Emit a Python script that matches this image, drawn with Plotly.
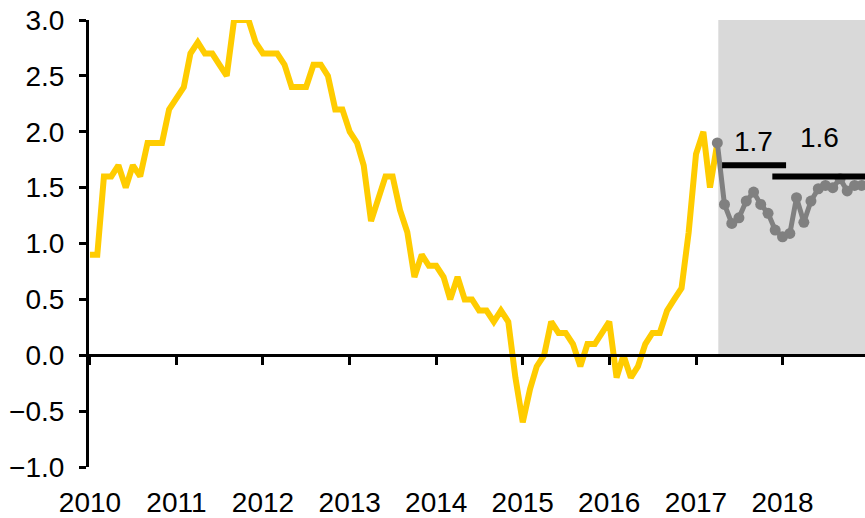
import plotly.graph_objects as go
import pandas as pd

# Actual inflation, monthly Jan 2010 - Apr 2017 (% y/y)
actual_dates = pd.date_range("2010-01-01", "2017-04-01", freq="MS")
actual = [
    0.9, 0.9, 1.6, 1.6, 1.7, 1.5, 1.7, 1.6, 1.9, 1.9, 1.9, 2.2,
    2.3, 2.4, 2.7, 2.8, 2.7, 2.7, 2.6, 2.5, 3.0, 3.0, 3.0, 2.8,
    2.7, 2.7, 2.7, 2.6, 2.4, 2.4, 2.4, 2.6, 2.6, 2.5, 2.2, 2.2,
    2.0, 1.9, 1.7, 1.2, 1.4, 1.6, 1.6, 1.3, 1.1, 0.7, 0.9, 0.8,
    0.8, 0.7, 0.5, 0.7, 0.5, 0.5, 0.4, 0.4, 0.3, 0.4, 0.3, -0.2,
    -0.6, -0.3, -0.1, 0.0, 0.3, 0.2, 0.2, 0.1, -0.1, 0.1, 0.1, 0.2,
    0.3, -0.2, 0.0, -0.2, -0.1, 0.1, 0.2, 0.2, 0.4, 0.5, 0.6, 1.1,
    1.8, 2.0, 1.5, 1.9,
]

# Forecast, monthly Apr 2017 - Dec 2018
forecast_dates = pd.date_range("2017-04-01", "2018-12-01", freq="MS")
forecast = [
    1.9, 1.35, 1.18, 1.23, 1.38, 1.46, 1.35, 1.27, 1.12,
    1.06, 1.09, 1.41, 1.19, 1.38, 1.49, 1.52, 1.50, 1.58, 1.47, 1.52, 1.52,
]

# Annual averages of the forecast and the spans they are drawn over
avg_labels = ["1.7", "1.6"]
avg_values = [1.7, 1.6]
avg_starts = ["2017-04-21", "2017-11-19"]
avg_ends = ["2018-01-16", "2018-12-20"]
avg_label_x = ["2017-09-02", "2018-06-06"]
avg_label_y = [1.91, 1.95]

forecast_start = "2017-04-05"
x_range = ["2009-12-28", "2018-12-15"]
y_range = [-1.0, 3.0]
year_ticks = [f"{y}-01-01" for y in range(2010, 2019)]
year_labels = [str(y) for y in range(2010, 2019)]
y_ticks = [-1.0, -0.5, 0.0, 0.5, 1.0, 1.5, 2.0, 2.5, 3.0]

FONT = "Liberation Sans, Arial, sans-serif"

fig = go.Figure()

# shaded forecast period
fig.add_shape(type="rect", xref="x", yref="y", x0=forecast_start, x1=x_range[1],
              y0=0, y1=3.0, fillcolor="#d9d9d9", line_width=0, layer="below")

fig.add_trace(go.Scatter(x=actual_dates, y=actual, mode="lines",
                         line=dict(color="#FFCC00", width=6), showlegend=False))
fig.add_trace(go.Scatter(x=forecast_dates, y=forecast, mode="lines+markers",
                         line=dict(color="#808080", width=5),
                         marker=dict(color="#808080", size=11), showlegend=False))

for v, s, e in zip(avg_values, avg_starts, avg_ends):
    fig.add_trace(go.Scatter(x=[s, e], y=[v, v], mode="lines",
                             line=dict(color="black", width=6), showlegend=False))

for t, lx, ly in zip(avg_labels, avg_label_x, avg_label_y):
    fig.add_annotation(x=lx, y=ly, text=t, showarrow=False,
                       font=dict(size=28, color="black", family=FONT))

# invisible trace to carry the zero-crossing axis
fig.add_trace(go.Scatter(x=[x_range[0]], y=[0], xaxis="x2", mode="markers",
                         marker=dict(opacity=0), showlegend=False, hoverinfo="skip"))

fig.update_layout(
    width=865, height=518,
    margin=dict(l=89, r=0, t=20, b=51, autoexpand=False),
    paper_bgcolor="white", plot_bgcolor="white",
    font=dict(family=FONT, size=28, color="black"),
    xaxis=dict(type="date", range=x_range, tickvals=year_ticks, ticktext=year_labels,
               showline=False, showgrid=False, zeroline=False, ticks="",
               automargin=False, ticklabeloverflow="allow",
               ticklabelstandoff=16, tickfont=dict(size=28)),
    xaxis2=dict(type="date", range=x_range, overlaying="x", anchor="free", position=0.25,
                tickvals=year_ticks, showticklabels=False, showline=True,
                linecolor="black", linewidth=3, ticks="outside", ticklen=8,
                tickwidth=3, tickcolor="black", showgrid=False, zeroline=False,
                automargin=False),
    yaxis=dict(range=y_range, tickvals=y_ticks, tickformat=".1f",
               showline=True, linecolor="black", linewidth=3, ticks="outside",
               ticklen=7, tickwidth=3, tickcolor="black", showgrid=False,
               zeroline=False, ticklabelstandoff=9, tickfont=dict(size=28),
               automargin=False, ticklabeloverflow="allow"),
)

# remove the default page margin so the figure fills the window exactly
fig.write_html("out.html",
               config={"displayModeBar": False},
               post_script="document.body.style.margin='0';document.body.style.overflow='hidden';")
